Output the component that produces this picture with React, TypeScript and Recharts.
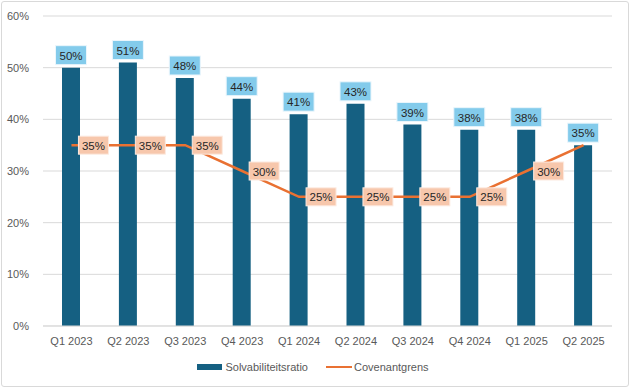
import { Bar, CartesianGrid, ComposedChart, LabelList, Legend, Line, XAxis, YAxis } from "recharts";

const quarters = ["Q1 2023", "Q2 2023", "Q3 2023", "Q4 2023", "Q1 2024", "Q2 2024", "Q3 2024", "Q4 2024", "Q1 2025", "Q2 2025"];
const solvabiliteit = [50, 51, 48, 44, 41, 43, 39, 38, 38, 35];
const covenant = [35, 35, 35, 30, 25, 25, 25, 25, 30, 35];
const yTicks = [0, 10, 20, 30, 40, 50, 60];

const data = quarters.map((q, i) => ({ q, solv: solvabiliteit[i], cov: covenant[i] }));

const font = "'Liberation Sans', Arial, sans-serif";
const tick = { fontSize: 11, fill: "#595959", fontFamily: font };

const BarLabel = (props: any) => {
  const { x, y, width, value } = props;
  const cx = x + width / 2;
  return (
    <g>
      <rect x={cx - 15.5} y={y - 22} width={31} height={19} fill="#83CBEB" stroke="#EAF6FC" strokeWidth={1} />
      <text x={cx} y={y - 12} textAnchor="middle" dominantBaseline="central" fontSize={11.5} fill="#262626" fontFamily={font}>
        {value}%
      </text>
    </g>
  );
};

const LineLabel = (props: any) => {
  const { x, y, value, index } = props;
  // the last one sits under the bar label in the original
  if (index === covenant.length - 1) return null;
  return (
    <g>
      <rect x={x + 7} y={y - 9} width={30} height={18} fill="#F7C7AC" stroke="#FCEAE0" strokeWidth={1} />
      <text x={x + 22} y={y + 0.5} textAnchor="middle" dominantBaseline="central" fontSize={11.5} fill="#262626" fontFamily={font}>
        {value}%
      </text>
    </g>
  );
};

const LegendContent = () => (
  <div style={{ height: 27, display: "flex", alignItems: "flex-end" }}>
    <div style={{ width: "100%", display: "flex", justifyContent: "center", alignItems: "center", fontFamily: font, fontSize: 11, color: "#595959", height: 20, paddingLeft: 14 }}>
      <span style={{ display: "inline-block", width: 25, height: 6, background: "#156082", marginRight: 3 }} />
      <span style={{ marginRight: 18 }}>Solvabiliteitsratio</span>
      <span style={{ display: "inline-block", width: 26, height: 2.5, background: "#E97132", marginRight: 2 }} />
      <span>Covenantgrens</span>
    </div>
  </div>
);

export default function App() {
  return (
    <div style={{ position: "absolute", left: 0, top: 0, width: 630, height: 388, background: "#fff" }}>
      <div style={{ position: "absolute", left: 1, top: 1, width: 626, height: 384, border: "1px solid #D9D9D9", borderRadius: 3 }} />
      <ComposedChart width={630} height={388} data={data} margin={{ top: 16, right: 18, bottom: 11, left: 0 }}>
        <CartesianGrid stroke="#D9D9D9" vertical={false} />
        <XAxis dataKey="q" tick={tick} axisLine={{ stroke: "#D9D9D9" }} tickLine={false} height={24} tickMargin={5} />
        <YAxis domain={[0, 60]} ticks={yTicks} tickFormatter={(v) => `${v}%`} tick={tick} axisLine={false} tickLine={false} width={43} tickMargin={8} />
        <Legend verticalAlign="bottom" content={<LegendContent />} />
        <Bar dataKey="solv" name="Solvabiliteitsratio" fill="#156082" barSize={18} isAnimationActive={false}>
          <LabelList dataKey="solv" content={<BarLabel />} />
        </Bar>
        <Line dataKey="cov" name="Covenantgrens" type="linear" stroke="#E97132" strokeWidth={2.5} dot={false} isAnimationActive={false}>
          <LabelList dataKey="cov" content={<LineLabel />} />
        </Line>
      </ComposedChart>
    </div>
  );
}
